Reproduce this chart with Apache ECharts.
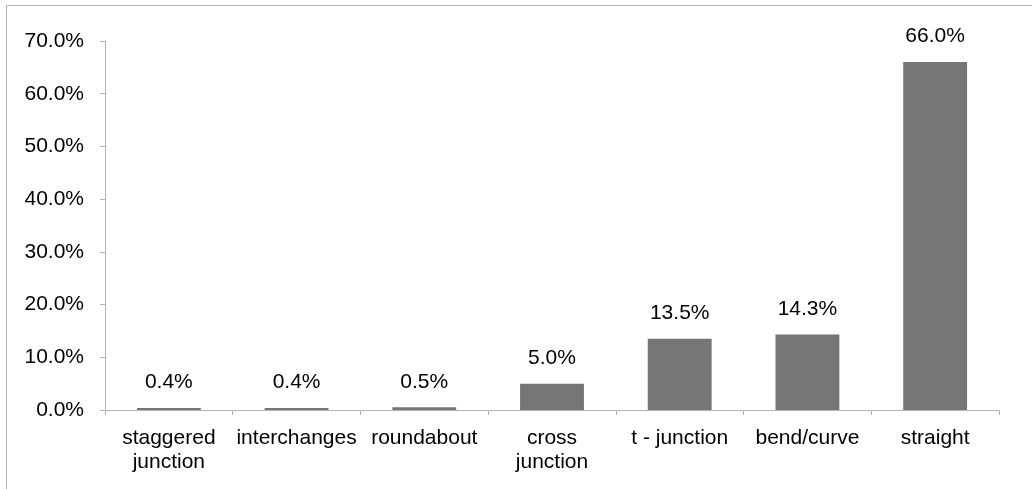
<!DOCTYPE html>
<html>
<head>
<meta charset="utf-8">
<script src="https://cdn.jsdelivr.net/npm/echarts@6/dist/echarts.min.js"></script>
<style>
  html, body { margin: 0; padding: 0; background: #fff; }
  #chart { width: 1032px; height: 489px; }
</style>
</head>
<body>
<div id="chart"></div>
<script>
// road layout categories and share of cases (%)
const categories = ['staggered\njunction', 'interchanges', 'roundabout', 'cross\njunction', 't - junction', 'bend/curve', 'straight']
const shares = [0.4, 0.4, 0.5, 5.0, 13.5, 14.3, 66.0]
const yTicks = [0, 10, 20, 30, 40, 50, 60, 70]

const font = 'Liberation Sans, Arial, sans-serif'
const axisGray = '#b4b4b4'

const myChart = echarts.init(document.getElementById('chart'))
myChart.setOption({
  animation: false,
  textStyle: { fontFamily: font },
  graphic: [
    {
      type: 'rect',
      shape: { x: 6.5, y: 5.5, width: 1100, height: 600 },
      style: { fill: 'none', stroke: axisGray, lineWidth: 1 },
      silent: true
    }
  ],
  grid: {
    left: 105,
    right: 33,
    top: 41,
    bottom: 79
  },
  xAxis: {
    type: 'category',
    data: categories,
    axisLine: { lineStyle: { color: axisGray } },
    axisTick: { show: true, length: 5, lineStyle: { color: axisGray } },
    axisLabel: {
      interval: 0,
      margin: 16,
      fontSize: 21,
      lineHeight: 24,
      color: '#000',
      fontFamily: font
    },
    splitLine: { show: false }
  },
  yAxis: {
    type: 'value',
    min: yTicks[0],
    max: yTicks[yTicks.length - 1],
    interval: 10,
    axisLine: { show: true, lineStyle: { color: axisGray } },
    axisTick: { show: true, length: 5, lineStyle: { color: axisGray } },
    axisLabel: {
      margin: 21,
      fontSize: 21,
      color: '#000',
      fontFamily: font,
      formatter: (v) => v.toFixed(1) + '%'
    },
    splitLine: { show: false }
  },
  series: [
    {
      type: 'bar',
      data: shares,
      barWidth: '50%',
      itemStyle: { color: '#767676' },
      label: {
        show: true,
        position: 'top',
        distance: 15,
        fontSize: 21,
        color: '#000',
        fontFamily: font,
        formatter: (p) => p.value.toFixed(1) + '%'
      }
    }
  ]
})
</script>
</body>
</html>
